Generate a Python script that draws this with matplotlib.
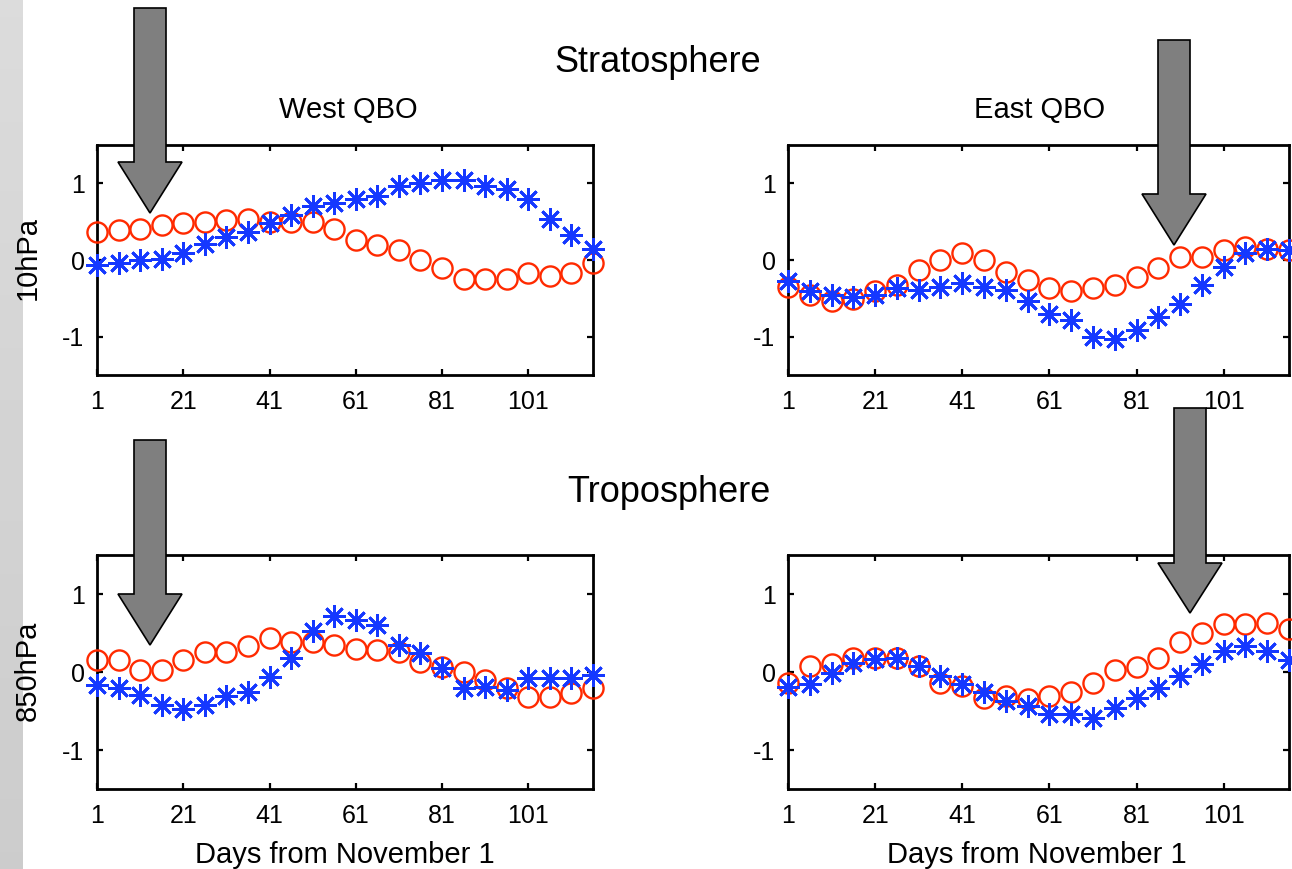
import numpy as np
import matplotlib
matplotlib.use("Agg")
import matplotlib.pyplot as plt
from matplotlib.patches import Polygon

plt.rcParams["font.family"] = ["Liberation Sans", "DejaVu Sans"]
plt.rcParams["axes.unicode_minus"] = False

# days from November 1, every 5 days
days = [1, 6, 11, 16, 21, 26, 31, 36, 41, 46, 51, 56, 61, 66, 71, 76, 81, 86, 91, 96, 101, 106, 111, 116]

# stratosphere (10hPa)
west_10_red = [0.37, 0.39, 0.40, 0.46, 0.48, 0.50, 0.52, 0.54, 0.50, 0.50, 0.50, 0.41,
               0.26, 0.20, 0.13, 0.00, -0.11, -0.25, -0.25, -0.25, -0.17, -0.21, -0.17, -0.04]
west_10_blue = [-0.07, -0.04, 0.00, 0.01, 0.09, 0.21, 0.30, 0.37, 0.48, 0.59, 0.70, 0.75,
                0.80, 0.83, 0.96, 1.00, 1.04, 1.04, 0.96, 0.93, 0.79, 0.54, 0.33, 0.15]
east_10_red = [-0.35, -0.46, -0.54, -0.51, -0.41, -0.33, -0.13, 0.00, 0.09, 0.00, -0.15, -0.26,
               -0.37, -0.41, -0.37, -0.33, -0.22, -0.11, 0.04, 0.04, 0.13, 0.17, 0.15, 0.13]
east_10_blue = [-0.28, -0.41, -0.46, -0.48, -0.46, -0.37, -0.39, -0.35, -0.30, -0.35, -0.39, -0.54,
                -0.70, -0.78, -1.00, -1.03, -0.91, -0.74, -0.57, -0.33, -0.09, 0.09, 0.15, 0.13]

# troposphere (850hPa)
west_850_red = [0.15, 0.15, 0.03, 0.03, 0.15, 0.26, 0.26, 0.33, 0.43, 0.39, 0.39, 0.35,
                0.30, 0.28, 0.26, 0.13, 0.07, 0.00, -0.10, -0.21, -0.32, -0.32, -0.27, -0.21]
west_850_blue = [-0.17, -0.21, -0.29, -0.42, -0.47, -0.42, -0.31, -0.25, -0.06, 0.18, 0.52, 0.72,
                 0.67, 0.60, 0.35, 0.24, 0.05, -0.21, -0.19, -0.23, -0.08, -0.08, -0.08, -0.04]
east_850_red = [-0.14, 0.08, 0.10, 0.18, 0.18, 0.18, 0.08, -0.14, -0.18, -0.33, -0.31, -0.35,
                -0.31, -0.26, -0.14, 0.03, 0.06, 0.18, 0.38, 0.50, 0.61, 0.61, 0.63, 0.55]
east_850_blue = [-0.19, -0.15, -0.01, 0.12, 0.17, 0.18, 0.08, -0.05, -0.16, -0.26, -0.37, -0.44,
                 -0.54, -0.54, -0.59, -0.46, -0.33, -0.20, -0.05, 0.10, 0.27, 0.33, 0.27, 0.16]

xticks = [1, 21, 41, 61, 81, 101]
yticks = [-1, 0, 1]

W, H = 1292, 869
fig = plt.figure(figsize=(W / 100, H / 100), dpi=100)

RED = "#ff2a00"
BLUE = "#1538ff"


def px_axes(x0, y0, x1, y1):
    # pixel box (top-left origin) -> figure fraction axes
    return fig.add_axes([x0 / W, 1 - y1 / H, (x1 - x0) / W, (y1 - y0) / H])


def panel(ax, red, blue):
    ax.plot(days, red, ls="none", marker="o", ms=14.5, mfc="none", mec=RED, mew=1.7,
            clip_on=False, zorder=3)
    ax.plot(days, blue, ls="none", marker=(8, 2, 0), ms=16.5, mec=BLUE, mew=2.0,
            clip_on=False, zorder=4)
    ax.set_xlim(1, 116)
    ax.set_ylim(-1.5, 1.5)
    ax.set_xticks(xticks)
    ax.set_yticks(yticks)
    ax.tick_params(direction="in", top=True, right=True, length=4, width=1.6,
                   labelsize=18, pad=9)
    ax.tick_params(axis="x", pad=11)
    for s in ax.spines.values():
        s.set_linewidth(2)


ax_tl = px_axes(97, 145, 593, 375)
ax_tr = px_axes(788, 145, 1289, 375)
ax_bl = px_axes(97, 555, 593, 789)
ax_br = px_axes(788, 555, 1289, 789)

panel(ax_tl, west_10_red, west_10_blue)
panel(ax_tr, east_10_red, east_10_blue)
panel(ax_bl, west_850_red, west_850_blue)
panel(ax_br, east_850_red, east_850_blue)


def ftext(x, y, s, size, rot=0):
    fig.text(x / W, 1 - y / H, s, ha="center", va="center", fontsize=size, rotation=rot)


ftext(658, 62, "Stratosphere", 26)
ftext(669, 492, "Troposphere", 26)
ftext(348, 110, "West QBO", 21)
ftext(1040, 110, "East QBO", 21)
ftext(345, 855, "Days from November 1", 21)
ftext(1037, 855, "Days from November 1", 21)
ftext(28, 258, "10hPa", 21, rot=90)
ftext(28, 671, "850hPa", 21, rot=90)

# grey strip on the left
strip = fig.add_axes([0, 0, 23 / W, 1])
strip.imshow(np.linspace(0.86, 0.80, 50).reshape(-1, 1), cmap="gray", vmin=0, vmax=1,
             aspect="auto", extent=[0, 1, 0, 1])
strip.axis("off")


def arrow(cx, top, head, tip, shaft_hw=16, head_hw=32):
    pts = [(cx - shaft_hw, top), (cx + shaft_hw, top), (cx + shaft_hw, head),
           (cx + head_hw, head), (cx, tip), (cx - head_hw, head), (cx - shaft_hw, head)]
    pts = [(x / W, 1 - y / H) for x, y in pts]
    fig.patches.append(Polygon(pts, closed=True, transform=fig.transFigure,
                               fc="#7f7f7f", ec="black", lw=1.2, zorder=10))


arrow(150, 8, 162, 213)
arrow(1174, 40, 194, 245)
arrow(150, 440, 594, 645)
arrow(1190, 408, 563, 613)

fig.savefig("out.png", dpi=100)
